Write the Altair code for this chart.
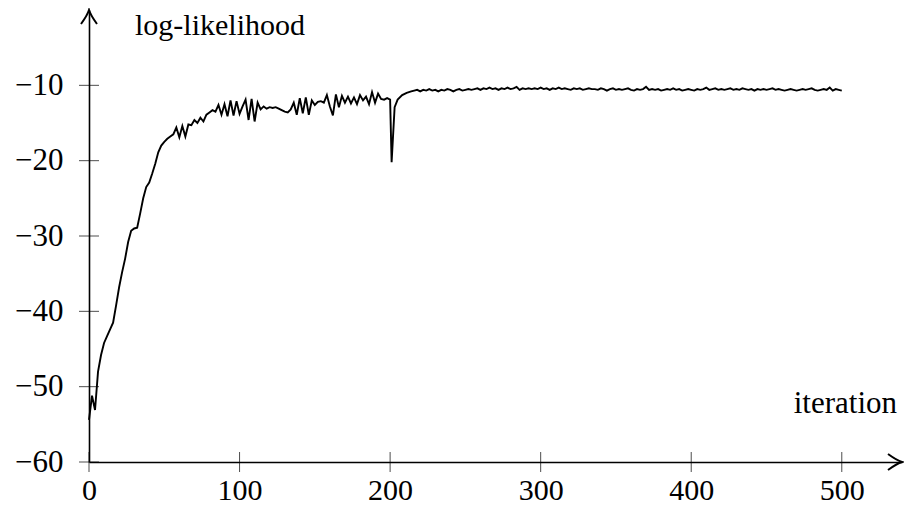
import altair as alt
import pandas as pd

# ---- data ----
# iterations 0..198, step 2
early_vals = [
    -54.4, -51.2, -53.1, -48.0, -45.8, -44.2, -43.3, -42.4, -41.5, -39.2,
    -36.8, -34.8, -33.0, -30.8, -29.3, -29.0, -28.9, -27.0, -25.0, -23.5,
    -22.9, -21.7, -20.4, -18.9, -18.0, -17.5, -17.1, -16.8, -16.5, -15.6,
    -16.9, -15.4, -16.8, -15.2, -15.3, -14.6, -15.0, -14.3, -14.8, -13.9,
    -13.6, -13.3, -13.5, -12.6, -13.9, -12.5, -14.1, -12.0, -14.0, -12.1,
    -13.8, -12.8, -11.9, -14.6, -11.8, -14.8, -12.3, -13.2, -12.8, -13.1,
    -12.9, -13.0, -12.9, -13.1, -13.3, -13.5, -13.6, -13.2, -12.3, -13.9,
    -11.7, -13.7, -11.6, -13.9, -12.0, -12.6, -12.2, -12.1, -12.3, -11.3,
    -12.8, -14.0, -11.2, -12.9, -11.4, -12.3, -11.5, -12.4, -11.6, -12.5,
    -11.3, -12.0, -11.5, -12.5, -10.9, -12.3, -11.1, -11.8, -11.9, -11.7,
]
early_iters = list(range(0, 200, 2))

# around the sudden drop
dip_iters = [200, 201, 203, 205, 208, 211, 214]
dip_vals = [-11.9, -20.2, -12.9, -11.9, -11.3, -11.0, -10.8]

# iterations 216..500, step 2
late_vals = [
    -10.7, -10.6, -10.8, -10.6, -10.7, -10.5, -10.7, -10.6, -10.8, -10.6,
    -10.7, -10.5, -10.6, -10.8, -10.6, -10.5, -10.7, -10.6, -10.5, -10.6,
    -10.5, -10.4, -10.6, -10.4, -10.5, -10.3, -10.5, -10.4, -10.6, -10.4,
    -10.5, -10.3, -10.5, -10.4, -10.2, -10.6, -10.4, -10.5, -10.4, -10.5,
    -10.4, -10.5, -10.3, -10.5, -10.4, -10.6, -10.4, -10.5, -10.3, -10.5,
    -10.4, -10.5, -10.6, -10.4, -10.5, -10.4, -10.6, -10.5, -10.4, -10.5,
    -10.5, -10.6, -10.4, -10.5, -10.7, -10.5, -10.4, -10.6, -10.5, -10.6,
    -10.5, -10.4, -10.6, -10.7, -10.5, -10.6, -10.5, -10.2, -10.6, -10.5,
    -10.6, -10.5, -10.7, -10.6, -10.5, -10.6, -10.4, -10.6, -10.5, -10.7,
    -10.6, -10.5, -10.6, -10.7, -10.5, -10.6, -10.5, -10.3, -10.6, -10.5,
    -10.4, -10.6, -10.5, -10.6, -10.5, -10.4, -10.6, -10.5, -10.6, -10.4,
    -10.5, -10.6, -10.5, -10.7, -10.5, -10.6, -10.5, -10.6, -10.5, -10.4,
    -10.6, -10.5, -10.6, -10.7, -10.6, -10.5, -10.6, -10.7, -10.6, -10.5,
    -10.6, -10.5, -10.4, -10.6, -10.7, -10.6, -10.5, -10.6, -10.3, -10.7,
    -10.5, -10.6, -10.7,
]
late_iters = list(range(216, 501, 2))

x_ticks = [0, 100, 200, 300, 400, 500]
y_ticks = [-60, -50, -40, -30, -20, -10]
X_MIN, X_MAX = 0, 540
Y_MIN, Y_MAX = -60, 0

iters = early_iters + dip_iters + late_iters
vals = early_vals + dip_vals + late_vals
df = pd.DataFrame({"iteration": iters[:len(vals)], "ll": vals[:len(iters)]})

FONT = "Liberation Serif"
W, H = 813, 452

xscale = alt.Scale(domain=[X_MIN, X_MAX], nice=False, zero=False)
yscale = alt.Scale(domain=[Y_MIN, Y_MAX], nice=False, zero=False)

x_axis = alt.Axis(values=x_ticks, ticks=False, tickSize=0, labelPadding=13,
                  labelFlush=False, grid=False, title=None,
                  domainColor="black", domainWidth=1.6,
                  labelFont=FONT, labelFontSize=30, labelColor="black")
y_axis = alt.Axis(values=y_ticks, ticks=False, tickSize=0, labelPadding=26,
                  labelFlush=False, grid=False, title=None,
                  domainColor="black", domainWidth=1.6,
                  labelFont=FONT, labelFontSize=31, labelColor="black")

line = alt.Chart(df).mark_line(color="black", strokeWidth=1.9).encode(
    x=alt.X("iteration:Q", scale=xscale, axis=x_axis),
    y=alt.Y("ll:Q", scale=yscale, axis=y_axis),
)

xt = alt.Chart(pd.DataFrame({"t": x_ticks})).mark_tick(
    orient="vertical", color="black", size=20, thickness=1
).encode(x=alt.X("t:Q", scale=xscale, axis=x_axis),
         y=alt.YDatum(Y_MIN, scale=yscale, axis=y_axis))

yt = alt.Chart(pd.DataFrame({"t": y_ticks})).mark_tick(
    orient="horizontal", color="black", size=20, thickness=1
).encode(y=alt.Y("t:Q", scale=yscale, axis=y_axis),
         x=alt.XDatum(X_MIN, scale=xscale, axis=x_axis))

arrow_right = "M -1.4 -0.8 Q -0.5 -0.15 0 0 Q -0.5 0.15 -1.4 0.8"
arrow_up = "M -0.8 1.4 Q -0.15 0.5 0 0 Q 0.15 0.5 0.8 1.4"

ax_arrow = alt.Chart(pd.DataFrame({"a": [0]})).mark_point(
    shape=arrow_right, size=400, filled=False, color="black", strokeWidth=2, opacity=1
).encode(x=alt.XDatum(X_MAX, scale=xscale, axis=x_axis),
         y=alt.YDatum(Y_MIN, scale=yscale, axis=y_axis))

ay_arrow = alt.Chart(pd.DataFrame({"a": [0]})).mark_point(
    shape=arrow_up, size=400, filled=False, color="black", strokeWidth=2, opacity=1
).encode(x=alt.XDatum(X_MIN, scale=xscale, axis=x_axis),
         y=alt.YDatum(Y_MAX, scale=yscale, axis=y_axis))

ytitle = alt.Chart(pd.DataFrame({"t": ["log-likelihood"]})).mark_text(
    align="left", baseline="alphabetic", font=FONT, fontSize=30, color="black"
).encode(text="t:N", x=alt.value(46), y=alt.value(25))

xtitle = alt.Chart(pd.DataFrame({"t": ["iteration"]})).mark_text(
    align="right", baseline="alphabetic", font=FONT, fontSize=31, color="black"
).encode(text="t:N", x=alt.value(808), y=alt.value(403))

chart = alt.layer(line, xt, yt, ax_arrow, ay_arrow, ytitle, xtitle).properties(
    width=W, height=H,
    padding={"left": 81, "top": 2, "right": 2, "bottom": 44},
    autosize=alt.AutoSizeParams(type="none"),
    background="white",
).configure_view(stroke=None)

chart.save("out.html", embed_options={"renderer": "svg", "actions": False})
